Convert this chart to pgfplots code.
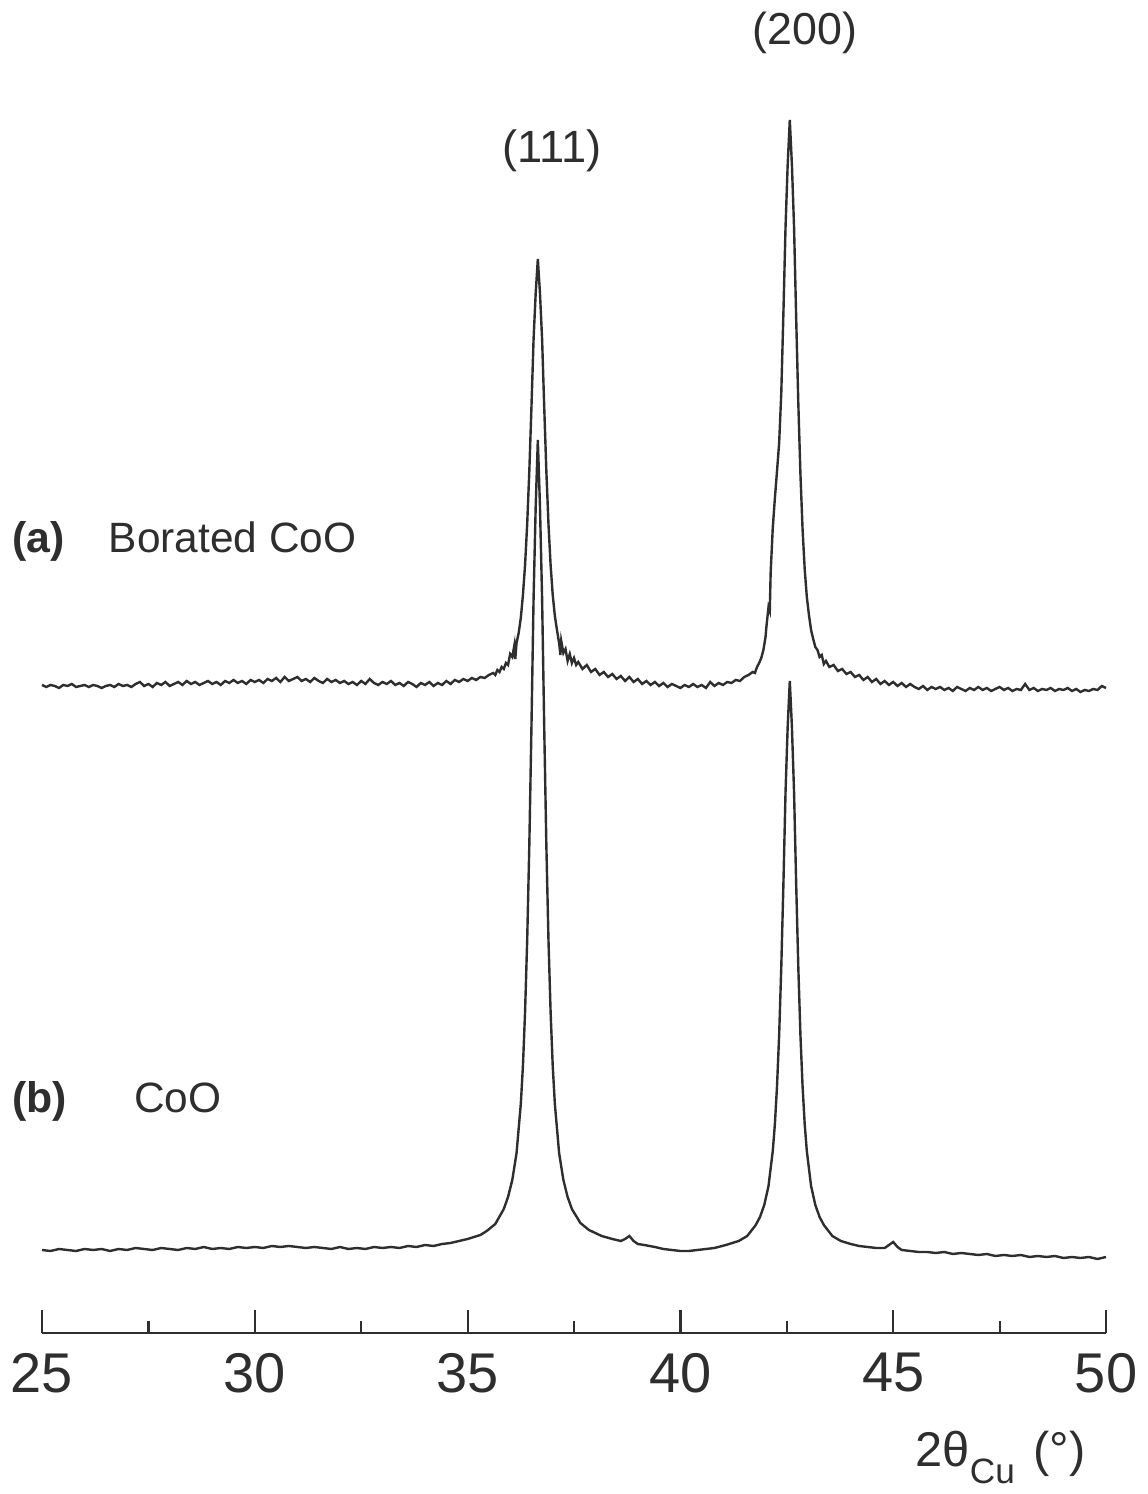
\documentclass[border=0pt]{standalone}
\usepackage{fontspec}
\setmainfont{Liberation Sans}
\usepackage{pgfplots}
\pgfplotsset{compat=1.18}
\definecolor{ink}{HTML}{2E2E2E}
\begin{document}
\begin{tikzpicture}
\begin{axis}[
  at={(10.5pt,40.25pt)}, anchor=south west,
  scale only axis, width=266pt, height=333.25pt,
  xmin=25, xmax=50, ymin=0, ymax=1333,
  axis x line*=bottom, axis y line=none,
  xtick={25,30,...,50}, minor xtick={27.5,32.5,37.5,42.5,47.5},
  xtick align=inside,
  major tick length=5.75pt, minor tick length=2.9pt,
  axis line style={line width=0.55pt, ink},
  every tick/.style={line width=0.55pt, ink},
  tick label style={font=\fontsize{14}{16}\selectfont, text=ink},
  /pgf/number format/assume math mode=true,
  xticklabel style={yshift=-1.5pt},
  clip=false,
]
% (a) Borated CoO
\addplot[ink, line width=0.6pt] coordinates {
(25.0,648)(25.1,646)(25.2,648)(25.3,647)(25.4,645)(25.5,648)(25.6,647)(25.7,649)(25.8,646)(25.9,647)
(26.0,648)(26.1,646)(26.2,648)(26.3,647)(26.4,645)(26.5,647)(26.6,648)(26.7,646)(26.8,649)(26.9,647)
(27.0,648)(27.1,646)(27.2,649)(27.3,651)(27.4,647)(27.5,649)(27.6,646)(27.7,650)(27.8,648)(27.9,651)
(28.0,647)(28.1,649)(28.2,651)(28.3,648)(28.4,652)(28.5,649)(28.6,651)(28.7,648)(28.8,650)(28.9,652)
(29.0,649)(29.1,651)(29.2,648)(29.3,652)(29.4,650)(29.5,653)(29.6,650)(29.7,652)(29.8,649)(29.9,653)
(30.0,651)(30.1,653)(30.2,650)(30.3,654)(30.4,652)(30.5,655)(30.6,651)(30.7,656)(30.8,652)(30.9,654)
(31.0,656)(31.1,652)(31.2,654)(31.3,651)(31.4,655)(31.5,652)(31.6,650)(31.7,654)(31.8,651)(31.9,653)
(32.0,650)(32.1,652)(32.2,649)(32.3,651)(32.4,648)(32.5,652)(32.6,649)(32.7,654)(32.8,650)(32.9,648)
(33.0,651)(33.1,649)(33.2,652)(33.3,648)(33.4,650)(33.5,647)(33.6,651)(33.7,649)(33.8,646)(33.9,650)
(34.0,648)(34.1,651)(34.2,647)(34.3,650)(34.4,648)(34.5,652)(34.6,649)(34.7,653)(34.8,651)(34.9,654)
(35.0,652)(35.1,655)(35.2,653)(35.3,656)(35.4,655)(35.5,658)(35.6,660)(35.65,658)(35.7,663)(35.75,661)
(35.8,666)(35.85,664)(35.9,670)(35.95,668)(36.0,679)(36.05,676)(36.1,688)(36.12,674)(36.15,690)(36.2,700)
(36.25,715)(36.3,738)(36.35,768)(36.4,809)(36.45,862)(36.5,926)(36.55,994)(36.6,1040)(36.65,1074)
(36.7,1040)(36.75,994)(36.8,926)(36.85,862)(36.9,809)(36.95,768)(37.0,738)(37.05,717)(37.1,703)
(37.15,690)(37.18,678)(37.2,692)(37.25,680)(37.3,684)(37.35,672)(37.4,679)(37.45,670)(37.5,675)
(37.55,668)(37.6,671)(37.7,664)(37.8,668)(37.9,661)(38.0,664)(38.1,658)(38.2,661)(38.3,656)(38.4,659)
(38.5,654)(38.6,657)(38.7,652)(38.8,656)(38.9,651)(39.0,654)(39.1,649)(39.2,652)(39.3,648)(39.4,651)
(39.5,647)(39.6,650)(39.7,646)(39.8,649)(39.9,647)(40.0,645)(40.1,648)(40.2,646)(40.3,649)(40.4,646)
(40.5,648)(40.6,645)(40.7,651)(40.8,647)(40.9,650)(41.0,648)(41.1,651)(41.2,650)(41.3,653)(41.4,652)
(41.5,656)(41.6,658)(41.7,661)(41.75,660)(41.8,666)(41.85,670)(41.9,675)(41.95,683)(42.0,696)
(42.02,706)(42.07,726)(42.1,722)(42.12,760)(42.17,805)(42.22,835)(42.27,862)(42.32,890)(42.37,940)
(42.42,1020)(42.47,1106)(42.52,1168)(42.57,1213)(42.62,1168)(42.67,1106)(42.72,1015)(42.77,930)
(42.82,859)(42.87,804)(42.92,764)(42.97,736)(43.02,718)(43.07,703)(43.12,694)(43.17,686)(43.22,683)
(43.27,676)(43.32,678)(43.37,669)(43.42,672)(43.5,666)(43.6,668)(43.7,662)(43.8,664)(43.9,659)
(44.0,661)(44.1,656)(44.2,658)(44.3,653)(44.4,656)(44.5,651)(44.6,654)(44.7,649)(44.8,652)(44.9,648)
(45.0,651)(45.1,647)(45.2,650)(45.3,646)(45.4,649)(45.5,646)(45.6,644)(45.7,647)(45.8,643)(45.9,646)
(46.0,644)(46.1,646)(46.2,643)(46.3,645)(46.4,642)(46.5,646)(46.6,644)(46.7,642)(46.8,645)(46.9,643)
(47.0,646)(47.1,643)(47.2,645)(47.3,642)(47.4,644)(47.5,646)(47.6,643)(47.7,645)(47.8,642)(47.9,644)
(48.0,643)(48.1,649)(48.2,643)(48.3,645)(48.4,642)(48.5,644)(48.6,643)(48.7,645)(48.8,642)(48.9,644)
(49.0,643)(49.1,645)(49.2,642)(49.3,644)(49.4,641)(49.5,643)(49.6,642)(49.7,644)(49.8,643)(49.9,647)
(50.0,645)
};
% (b) CoO
\addplot[ink, line width=0.6pt] coordinates {
(25.0,83)(25.2,82)(25.4,84)(25.6,83)(25.8,82)(26.0,84)(26.2,83)(26.4,84)(26.6,82)(26.8,84)
(27.0,83)(27.2,85)(27.4,84)(27.6,83)(27.8,85)(28.0,84)(28.2,83)(28.4,85)(28.6,84)(28.8,86)
(29.0,84)(29.2,85)(29.4,84)(29.6,86)(29.8,85)(30.0,86)(30.2,85)(30.4,87)(30.6,86)(30.8,87)
(31.0,86)(31.2,85)(31.4,86)(31.6,85)(31.8,84)(32.0,86)(32.2,84)(32.4,85)(32.6,84)(32.8,86)
(33.0,85)(33.2,86)(33.4,85)(33.6,87)(33.8,86)(34.0,88)(34.2,87)(34.4,89)(34.6,90)(34.8,92)
(35.0,94)(35.15,96)(35.3,98)(35.45,102)(35.65,109)(35.85,124)(35.95,136)(36.05,153)(36.15,180)
(36.25,229)(36.3,267)(36.35,321)(36.4,393)(36.45,488)(36.5,606)(36.55,735)(36.6,827)(36.65,893)
(36.7,827)(36.75,735)(36.8,606)(36.85,488)(36.9,393)(36.95,321)(37.0,267)(37.05,229)(37.15,180)
(37.25,153)(37.35,136)(37.45,124)(37.65,110)(37.85,103)(38.15,97)(38.4,94)(38.6,92)(38.7,94)
(38.8,97)(38.9,92)(39.0,89)(39.15,88)(39.4,86)(39.6,84)(39.8,83)(40.0,82)(40.2,82)(40.4,83)
(40.6,84)(40.8,85)(41.07,88)(41.37,92)(41.57,97)(41.77,108)(41.87,116)(41.97,128)(42.07,147)
(42.17,182)(42.22,209)(42.27,247)(42.32,298)(42.37,366)(42.42,449)(42.47,541)(42.52,606)(42.57,652)
(42.62,606)(42.67,541)(42.72,449)(42.77,366)(42.82,298)(42.87,247)(42.92,209)(42.97,182)(43.07,147)
(43.17,128)(43.27,116)(43.37,108)(43.57,97)(43.77,92)(44.0,89)(44.2,87)(44.4,86)(44.6,85)(44.8,85)
(44.9,88)(45.0,91)(45.1,86)(45.2,83)(45.4,82)(45.6,81)(45.8,81)(46.0,80)(46.2,81)(46.4,79)
(46.6,80)(46.8,79)(47.0,78)(47.2,79)(47.4,77)(47.6,78)(47.8,77)(48.0,78)(48.2,76)(48.4,77)
(48.6,76)(48.8,77)(49.0,75)(49.2,76)(49.4,75)(49.6,76)(49.8,74)(50.0,76)
};
\node[anchor=base, inner sep=0pt, text=ink, font=\fontsize{11.3}{13}\selectfont] at (axis cs:36.98,1170) {(111)};
\node[anchor=base, inner sep=0pt, text=ink, font=\fontsize{11.2}{13}\selectfont] at (axis cs:42.93,1288) {(200)};
\node[anchor=base west, inner sep=0pt, text=ink, font=\fontsize{10.7}{12}\selectfont\bfseries] at (axis cs:24.28,780) {(a)};
\node[anchor=base west, inner sep=0pt, text=ink, font=\fontsize{10.6}{12}\selectfont] at (axis cs:26.55,780) {Borated CoO};
\node[anchor=base west, inner sep=0pt, text=ink, font=\fontsize{10.7}{12}\selectfont\bfseries] at (axis cs:24.28,220) {(b)};
\node[anchor=base west, inner sep=0pt, text=ink, font=\fontsize{10.6}{12}\selectfont] at (axis cs:27.15,220) {CoO};
\node[anchor=base, inner sep=0pt, text=ink, font=\fontsize{12.2}{14}\selectfont] at (axis cs:47.52,-134) {2θ\raisebox{-0.33em}{\fontsize{8.8}{10}\selectfont Cu}\hspace{0.1em} (°)};
\end{axis}
\pgfresetboundingbox
\path[use as bounding box] (0,0) rectangle (286.75pt,373.5pt);
\end{tikzpicture}
\end{document}
